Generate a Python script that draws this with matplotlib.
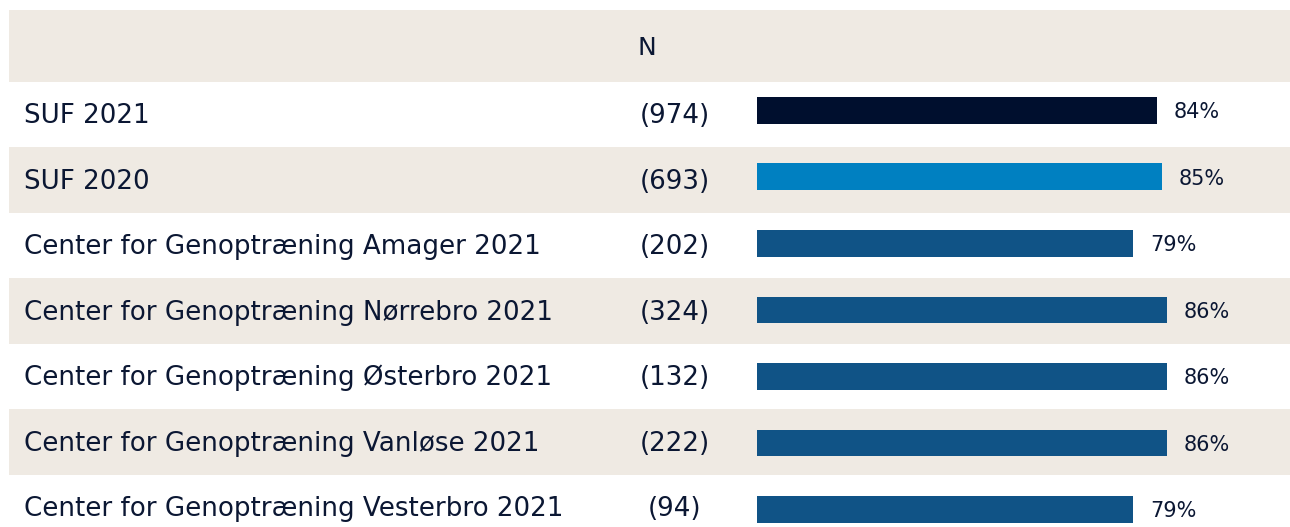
import matplotlib
matplotlib.use("Agg")
import matplotlib.pyplot as plt
from matplotlib.patches import Rectangle

# ----------------------------------------------------------------
# Data
# ----------------------------------------------------------------
labels = [
    "SUF 2021",
    "SUF 2020",
    "Center for Genoptræning Amager 2021",
    "Center for Genoptræning Nørrebro 2021",
    "Center for Genoptræning Østerbro 2021",
    "Center for Genoptræning Vanløse 2021",
    "Center for Genoptræning Vesterbro 2021",
]
n_counts = [974, 693, 202, 324, 132, 222, 94]
shares = [84, 85, 79, 86, 86, 86, 79]
bar_colors = ["#000F2E", "#0080C1", "#105386", "#105386", "#105386", "#105386", "#105386"]

BEIGE = "#EFEAE3"
TEXT = "#0B1733"
W, H = 1290, 527

plt.rcParams["font.family"] = ["DejaVu Sans"]

fig = plt.figure(figsize=(W / 100, H / 100), dpi=100)
fig.patch.set_facecolor("white")

# background axes in pixel coordinates (table layout)
bg = fig.add_axes([0, 0, 1, 1])
bg.set_xlim(0, W)
bg.set_ylim(H, 0)
bg.axis("off")

# header band
bg.add_patch(Rectangle((9, 9.5), W - 9, 72.5, color=BEIGE, lw=0))
bg.text(637, 55, "N", fontsize=18, color=TEXT, ha="left", va="baseline")

row_top = 82.0
row_pitch = 65.45
base0 = 123.3
for i, (lab, n) in enumerate(zip(labels, n_counts)):
    if i % 2 == 1:
        bg.add_patch(Rectangle((9, row_top + i * row_pitch), W - 9, row_pitch,
                               color=BEIGE, lw=0))
    yb = base0 + i * row_pitch
    bg.text(24, yb, lab, fontsize=18.8, color=TEXT, ha="left", va="baseline")
    bg.text(674.5, yb, f"({n})", fontsize=18.8, color=TEXT, ha="center", va="baseline")

# bar axes: 0 at x=757 px, 4.764 px per percent
bar_left = 757
px_per_pct = 4.764
bar_pitch = 66.53
bar_c0 = 110.3
ax_top = bar_c0 - bar_pitch / 2
ax = fig.add_axes([bar_left / W, 0, 100 * px_per_pct / W, (H - ax_top) / H])
ax.set_xlim(0, 100)
ax.set_ylim(-0.5 + (H - ax_top) / bar_pitch, -0.5)
ax.patch.set_alpha(0)
ax.axis("off")

ypos = list(range(len(shares)))
ax.barh(ypos, shares, height=26.7 / bar_pitch, color=bar_colors, zorder=2)
for y, v in zip(ypos, shares):
    ax.annotate(f"{v}%", (v, y), xytext=(12, 0), textcoords="offset points",
                fontsize=15, color=TEXT, ha="left", va="center_baseline")

fig.savefig("out.png", dpi=100)
